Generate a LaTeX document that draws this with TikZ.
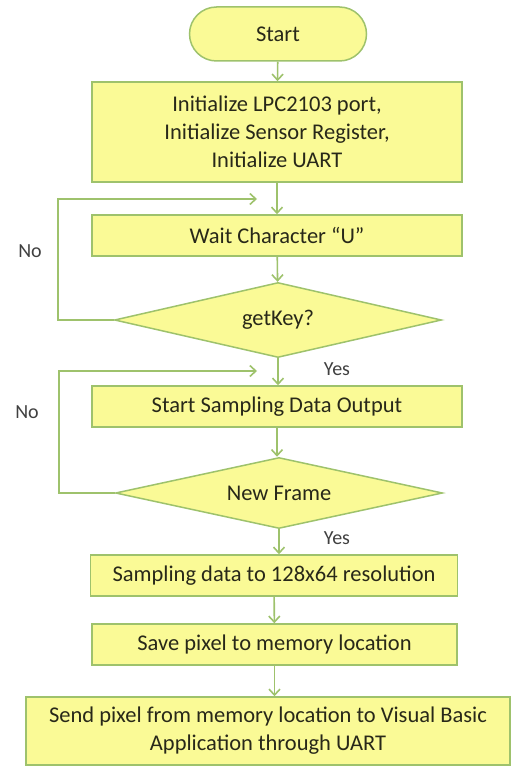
\documentclass[tikz,border=0pt]{standalone}
\usepackage{fontspec}
\setmainfont{Carlito}
\usetikzlibrary{shapes.geometric,arrows.meta}

\definecolor{boxyellow}{RGB}{250,250,150}
\definecolor{boxgreen}{RGB}{158,194,108}
\definecolor{txtdark}{RGB}{40,40,25}

\tikzset{
  procbox/.style={draw=boxgreen, fill=boxyellow, line width=1.5pt,
    minimum width=370pt, minimum height=41pt, inner sep=0pt,
    text=txtdark, align=center, font=\fontsize{22.5}{28}\selectfont},
  startbox/.style={procbox, rounded corners=27pt, minimum width=177pt, minimum height=54pt},
  decision/.style={diamond, draw=boxgreen, fill=boxyellow, line width=1.5pt,
    minimum width=327pt, minimum height=75pt, aspect=4.4, inner sep=0pt,
    text=txtdark, font=\fontsize{22.5}{28}\selectfont},
  flow/.style={draw=boxgreen, line width=1.6pt, -{Straight Barb[length=6pt,width=11pt]}},
  answer/.style={text=black!75, font=\fontsize{20}{20}\selectfont}
}

\begin{document}
\begin{tikzpicture}[x=1pt,y=-1pt]
  \useasboundingbox (0,0) rectangle (527,767);

  % boxes, top to bottom
  \node[startbox] (start) at (278,34) {Start};
  \node[procbox, minimum height=100pt] (init) at (277,132)
    {Initialize LPC2103 port,\\ Initialize Sensor Register,\\ Initialize UART};
  \node[procbox] (wait) at (277,235.5) {Wait Character ``U''};
  \node[decision] (getkey) at (278,320) {getKey?};
  \node[procbox] (sample) at (277,406.5) {Start Sampling Data Output};
  \node[decision, minimum height=71pt] (frame) at (279,493) {New Frame};
  \node[procbox, minimum width=367pt] (reso) at (274,575.5) {Sampling data to 128x64 resolution};
  \node[procbox, minimum width=365pt] (save) at (274.5,644.5) {Save pixel to memory location};
  \node[procbox, minimum width=484pt, minimum height=68pt] (send) at (268,731)
    {Send pixel from memory location to Visual Basic\\ Application through UART};

  % loop ends
  \coordinate (loopa) at (257,199);
  \coordinate (loopb) at (257,371);

  % main flow
  \draw[flow] (start) -- (init);
  \draw[flow] (init) -- (wait);
  \draw[flow] (wait) -- (getkey);
  \draw[flow] (getkey) -- (getkey.south |- sample.north);
  \draw[flow] (sample) -- (sample.south |- frame.north);
  \draw[flow] (frame) -- (frame.south |- reso.north);
  \draw[flow] (reso) -- (save);
  \draw[flow] (save) -- (save.south |- send.north);

  % back loops
  \draw[flow] (getkey.west) -- ++(-56,0) |- (loopa);
  \draw[flow] (frame.west) -- ++(-56,0) |- (loopb);

  \node[answer] (no1) at (30,251) {No};
  \node[answer] (no2) at (27,412) {No};
  \node[answer] (yes1) at (337,369) {Yes};
  \node[answer] (yes2) at (337,538) {Yes};

\end{tikzpicture}
\end{document}
